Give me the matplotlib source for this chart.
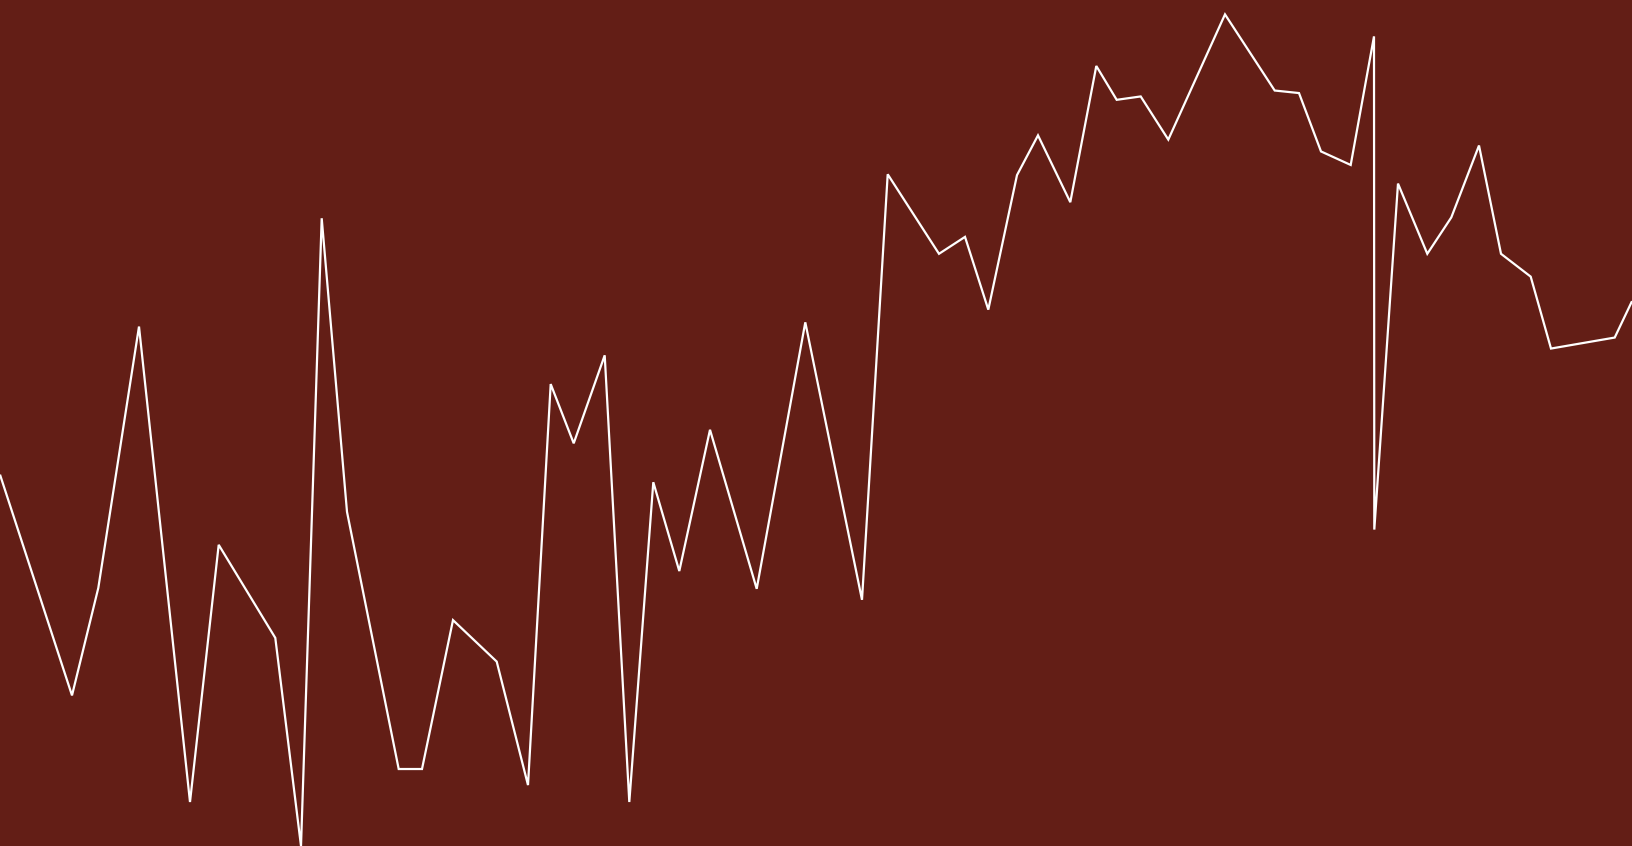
import matplotlib
matplotlib.use("Agg")
import matplotlib.pyplot as plt

# Positions along the time axis and values (0-100 scale)
x = [0, 72, 98.3, 139, 190, 218.7, 275.3, 301, 321.7, 347, 398.7, 422,
     453, 496.7, 528, 550.7, 573.7, 604.7, 629.3, 653.3, 679.3, 710, 756.7,
     805.3, 862, 887.7, 939, 965, 988.3, 1017, 1038, 1070.3, 1096.3, 1116.7,
     1140.7, 1168.3, 1225, 1274.7, 1299, 1321, 1350.7, 1374, 1374.3, 1398,
     1427.3, 1451.3, 1479, 1501, 1530.7, 1551, 1614.7, 1632]
y = [43.9, 17.8, 30.5, 61.4, 5.2, 35.6, 24.6, 0.0, 74.2, 39.5, 9.1, 9.1,
     26.7, 21.8, 7.2, 54.6, 47.6, 58.0, 5.2, 43.0, 32.5, 49.2, 30.4,
     61.9, 29.1, 79.4, 70.0, 72.0, 63.4, 79.3, 84.0, 76.1, 92.2, 88.2,
     88.6, 83.5, 98.3, 89.3, 89.0, 82.1, 80.5, 95.7, 37.4, 78.3,
     70.0, 74.3, 82.8, 70.0, 67.3, 58.8, 60.1, 64.4]

bg = '#631e16'

fig = plt.figure(figsize=(16.32, 8.46), dpi=100, facecolor=bg)
ax = fig.add_axes([0, 0, 1, 1])
ax.set_facecolor(bg)

ax.plot(x, y, color='white', linewidth=1.6,
        solid_joinstyle='miter', solid_capstyle='butt')

ax.set_xlim(0, 1632)
ax.set_ylim(0, 100)
ax.axis('off')

fig.savefig('out.png', dpi=100, facecolor=bg)
